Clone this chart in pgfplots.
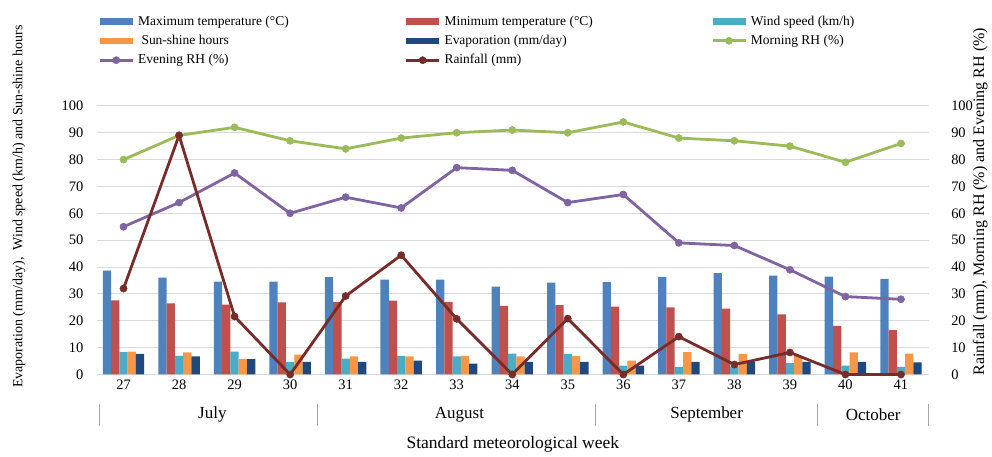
\documentclass[border=0pt]{standalone}
\usepackage{pgfplots}
\pgfplotsset{compat=1.18}
\usepackage{pgfplotstable}
\usepackage{fontspec}
\setmainfont{Liberation Serif}
\definecolor{cmax}{HTML}{4F81BD}
\definecolor{cmin}{HTML}{C0504D}
\definecolor{cwind}{HTML}{4BACC6}
\definecolor{csun}{HTML}{F79646}
\definecolor{cevap}{HTML}{1F497D}
\definecolor{cmorn}{HTML}{9BBB59}
\definecolor{ceven}{HTML}{8064A2}
\definecolor{crain}{HTML}{772C2A}
\definecolor{cgrid}{HTML}{D9D9D9}
\pgfplotstableread{
x maxT minT wind sun evap morn even rain
0 38.7 27.6 8.3 8.5 7.7 80 55 32
1 36.1 26.5 6.9 8.2 6.7 89 64 89
2 34.6 26.0 8.5 5.7 5.7 92 75 21.6
3 34.6 26.8 4.7 7.4 4.7 87 60 0
4 36.2 27.0 5.9 6.7 4.7 84 66 29.2
5 35.3 27.5 6.9 6.7 5.2 88 62 44.4
6 35.3 27.0 6.7 6.9 4.0 90 77 20.7
7 32.7 25.5 7.8 6.7 4.7 91 76 0
8 34.2 25.8 7.7 6.9 4.7 90 64 20.8
9 34.4 25.3 3.3 5.2 3.3 94 67 0
10 36.3 25.0 2.8 8.3 4.7 88 49 14.1
11 37.7 24.5 3.0 7.7 4.7 87 48 3.7
12 36.8 22.4 4.2 6.9 4.7 85 39 8.2
13 36.4 18.1 3.3 8.2 4.7 79 29 0
14 35.6 16.5 2.8 7.8 4.5 86 28 0
}\datatable
\begin{document}
\fontsize{13bp}{15bp}\selectfont
\begin{tikzpicture}
\path (-97bp,-79bp) rectangle (895bp,375bp);
\pgfplotsset{
  barleg/.style={legend image code/.code={\fill[##1,draw=none] (0bp,-3.2bp) rectangle (33bp,3.2bp);}},
  lineleg/.style={legend image code/.code={\draw[mark repeat=2,mark phase=2,##1] plot coordinates {(0bp,0bp) (16.5bp,0bp) (33bp,0bp)};}},
}
\begin{axis}[
  at={(0,0)}, anchor=south west,
  scale only axis, width=833bp, height=269bp,
  xmin=-0.48, xmax=14.5, ymin=0, ymax=100,
  ytick={0,10,...,100},
  xtick={0,...,14},
  xticklabels={27,28,29,30,31,32,33,34,35,36,37,38,39,40,41},
  major tick length=0pt,
  axis y line*=left, axis x line*=bottom,
  y axis line style={draw=none},
  x axis line style={draw=cgrid, line width=1bp},
  ymajorgrids, grid style={draw=cgrid, line width=0.9bp},
  /pgf/number format/assume math mode=true,
  ticklabel style={font=\fontsize{14.5bp}{16bp}\selectfont},
  yticklabel style={xshift=-9bp},
  xticklabel style={yshift=-1bp},
  every axis y label/.style={at={(axis description cs:-0.0935,0.6245)}, anchor=center, rotate=90},
  ylabel={Evaporation (mm/day),\ \ Wind speed (km/h) and Sun-shine hours},
  every axis x label/.style={at={(axis description cs:0.5,-0.26)}, anchor=center},
  xlabel={Standard meteorological week},
  ylabel style={font=\fontsize{14bp}{16bp}\selectfont},
  xlabel style={font=\fontsize{17.5bp}{19bp}\selectfont},
  ybar=0pt, bar width=8.3bp,
  clip=false,
  legend columns=3,
  legend cell align=left,
  legend style={at={(rel axis cs:-0.002,1.345)}, anchor=north west, draw=none, fill=none,
    font=\fontsize{13.5bp}{15bp}\selectfont,
    nodes={inner xsep=0pt, inner ysep=0.5bp},
    row sep=7bp,
    /tikz/every odd column/.style={column sep=4bp}},
]
\addplot[fill=cmax, draw=none, barleg] table[x=x,y=maxT]{\datatable};
\addlegendentry{\makebox[267bp][l]{Maximum temperature (°C)}}
\addplot[fill=cmin, draw=none, barleg] table[x=x,y=minT]{\datatable};
\addlegendentry{\makebox[267bp][l]{Minimum temperature (°C)}}
\addplot[fill=cwind, draw=none, barleg] table[x=x,y=wind]{\datatable};
\addlegendentry{Wind speed (km/h)}
\addplot[fill=csun, draw=none, barleg] table[x=x,y=sun]{\datatable};
\addlegendentry{\makebox[267bp][l]{\ Sun-shine hours}}
\addplot[fill=cevap, draw=none, barleg] table[x=x,y=evap]{\datatable};
\addlegendentry{\makebox[267bp][l]{Evaporation (mm/day)}}
\addplot[sharp plot, color=cmorn, line width=2.8bp, mark=*, mark size=3.6bp, mark options={fill=cmorn, draw=cmorn, line width=0.5bp}, lineleg] table[x=x,y=morn]{\datatable};
\addlegendentry{Morning RH (\%)}
\addplot[sharp plot, color=ceven, line width=2.8bp, mark=*, mark size=3.6bp, mark options={fill=ceven, draw=ceven, line width=0.5bp}, lineleg] table[x=x,y=even]{\datatable};
\addlegendentry{\makebox[267bp][l]{Evening RH (\%)}}
\addplot[sharp plot, color=crain, line width=2.8bp, mark=*, mark size=3.6bp, mark options={fill=crain, draw=crain, line width=0.5bp}, lineleg] table[x=x,y=rain]{\datatable};
\addlegendentry{\makebox[267bp][l]{Rainfall (mm)}}
% month separators and labels
\pgfplotsinvokeforeach{-0.43,3.5,8.5,12.5,14.5}{
  \draw[draw=gray!70, line width=0.9bp] (axis cs:#1,-11) -- (axis cs:#1,-19.2);
}
\node[font=\fontsize{17bp}{19bp}\selectfont] at (axis cs:1.6,-15) {July};
\node[font=\fontsize{17bp}{19bp}\selectfont] at (axis cs:6.05,-15) {August};
\node[font=\fontsize{17bp}{19bp}\selectfont] at (axis cs:10.5,-15) {September};
\node[font=\fontsize{17bp}{19bp}\selectfont] at (axis cs:13.5,-15) {October};
\end{axis}
\begin{axis}[
  at={(0,0)}, anchor=south west,
  scale only axis, width=833bp, height=269bp,
  xmin=-0.48, xmax=14.5, ymin=0, ymax=100,
  ytick={0,10,...,100},
  major tick length=0pt,
  axis y line*=right, hide x axis,
  y axis line style={draw=none},
  /pgf/number format/assume math mode=true,
  ticklabel style={font=\fontsize{14.5bp}{16bp}\selectfont},
  yticklabel style={xshift=18bp},
  every axis y label/.style={at={(axis description cs:1.062,0.643)}, anchor=center, rotate=90},
  ylabel={Rainfall (mm), Morning RH (\%) and Evening RH (\%)},
  ylabel style={font=\fontsize{16bp}{18bp}\selectfont},
]
\addplot[draw=none, mark=none, forget plot] coordinates {(0,0)};
\end{axis}
\end{tikzpicture}
\end{document}
